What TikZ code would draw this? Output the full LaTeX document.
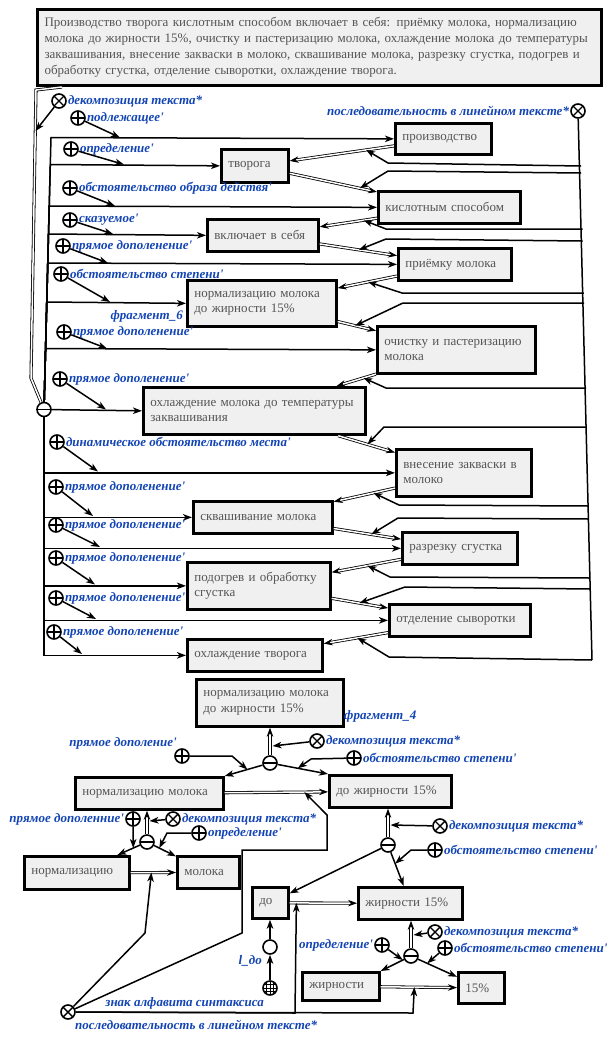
\documentclass[tikz,border=0pt]{standalone}
\usepackage{fontspec}
\setmainfont{Liberation Serif}
\usetikzlibrary{arrows.meta,calc}
\definecolor{lblue}{RGB}{18,68,180}
\definecolor{boxfill}{RGB}{240,240,240}
\definecolor{boxtext}{RGB}{85,85,85}
\newcommand{\apq}{\textquotesingle}
\tikzset{
  box/.style={draw, line width=2.7pt, fill=boxfill, text=boxtext, anchor=north west,
    inner xsep=7pt, inner ysep=2pt, align=left, font=\fontsize{13}{15.5}\selectfont,
    path picture={\fill (path picture bounding box.north west) -- ++(6pt,0pt) -- ++(-6pt,-6pt) -- cycle;}},
  sym/.style={circle, draw, line width=1.6pt, minimum size=14pt, inner sep=0pt, fill=white},
  symX/.style={sym, path picture={\draw[line width=1.4pt] (path picture bounding box.north west) -- (path picture bounding box.south east) (path picture bounding box.north east) -- (path picture bounding box.south west);}},
  symP/.style={sym, path picture={\draw[line width=1.4pt] (path picture bounding box.north) -- (path picture bounding box.south) (path picture bounding box.west) -- (path picture bounding box.east);}},
  symM/.style={sym, path picture={\draw[line width=1.4pt] (path picture bounding box.west) -- (path picture bounding box.east);}},
  symO/.style={sym},
  symG/.style={sym, path picture={\foreach \d in {-3.5,0,3.5} {\draw[line width=1pt] ([xshift=\d pt]path picture bounding box.north) -- ([xshift=\d pt]path picture bounding box.south) ([yshift=\d pt]path picture bounding box.west) -- ([yshift=\d pt]path picture bounding box.east);}}},
  lab/.style={text=lblue, font=\fontsize{13}{15}\selectfont\bfseries\itshape, inner sep=1pt},
  arr/.style={line width=1.5pt, -{Stealth[length=9pt,width=6.5pt,inset=2.5pt]}},
  ln/.style={line width=1.5pt},
  dbl/.style={line width=0.8pt, double=white, double distance=1.5pt, -{Stealth[length=9pt,width=6.5pt]}},
  dbln/.style={line width=0.8pt, double=white, double distance=1.5pt},
}
\begin{document}
\begin{tikzpicture}[x=1pt,y=-1pt]
\useasboundingbox (0,0) rectangle (615,1042);
% ---------- top text ----------
\node[box, line width=3pt, minimum width=564pt, minimum height=76pt, text width=550pt, font=\fontsize{13}{16}\selectfont] (top) at (36,8) {Производство творога кислотным способом включает в себя: приёмку молока, нормализацию\\молока до жирности 15\%, очистку и пастеризацию молока, охлаждение молока до температуры\\заквашивания, внесение закваски в молоко, сквашивание молока, разрезку сгустка, подогрев и\\обработку сгустка, отделение сыворотки, охлаждение творога.};

% ---------- upper boxes ----------
\node[box, minimum width=96pt, minimum height=31pt, text width=82pt] (n1) at (394,122) {производство};
\node[box, minimum width=67pt, minimum height=33pt, text width=53pt] (n2) at (220,148) {творога};
\node[box, minimum width=142pt, minimum height=32pt, text width=128pt] (n3) at (377,190) {кислотным способом};
\node[box, minimum width=111pt, minimum height=32pt, text width=97pt] (n4) at (206,218) {включает в себя};
\node[box, minimum width=113pt, minimum height=32pt, text width=99pt] (n5) at (397,247) {приёмку молока};
\node[box, minimum width=149pt, minimum height=46pt, text width=135pt] (n6) at (186,279) {нормализацию молока\\до жирности 15\%};
\node[box, minimum width=158pt, minimum height=47pt, text width=144pt] (n7) at (376,325) {очистку и пастеризацию\\молока};
\node[box, minimum width=222pt, minimum height=47pt, text width=208pt] (n8) at (142,386) {охлаждение молока до температуры\\заквашивания};
\node[box, minimum width=135pt, minimum height=47pt, text width=121pt] (n9) at (395,448) {внесение закваски в\\молоко};
\node[box, minimum width=139pt, minimum height=32pt, text width=125pt] (n10) at (192,500) {сквашивание молока};
\node[box, minimum width=115pt, minimum height=32pt, text width=101pt] (n11) at (401,531) {разрезку сгустка};
\node[box, minimum width=143pt, minimum height=47pt, text width=129pt] (n12) at (186,561) {подогрев и обработку\\сгустка};
\node[box, minimum width=141pt, minimum height=32pt, text width=127pt] (n13) at (388,603) {отделение сыворотки};
\node[box, minimum width=135pt, minimum height=32pt, text width=121pt] (n14) at (186,638) {охлаждение творога};
\node[lab, anchor=east] (frag6) at (184,316) {фрагмент\_6};

% ---------- decomposition tuple ----------
\node[symM] (T0) at (44,409.5) {};
\draw[dbln] ([xshift=26pt]top.south west) -- (36,90) -- (31,378) -- (T0);
\node[symX] (dec0) at (59,101) {};
\node[lab, anchor=west] (ldec0) at (dec0.east) {декомпозиция текста*};
\coordinate (d0t) at (35.5,131);
\draw[arr] (dec0) -- (d0t);

\draw[arr] (T0) -- (51,137.5) -- (n1.west);
\draw[arr] (T0) -- (50.3,164.5) -- (n2.west);
\draw[arr] (T0) -- (49.2,206) -- (n3.west);
\draw[arr] (T0) -- (48.5,234) -- (n4.west);
\draw[arr] (T0) -- (47.8,263) -- (n5.west);
\draw[arr] (T0) -- (46.8,302) -- (n6.west);
\draw[arr] (T0) -- (45.6,348.5) -- (n7.west);
\draw[arr] (T0) -- (n8.west);
\draw[arr] (T0) |- (n9.west);
\draw[arr] (T0) |- (n10.west);
\draw[arr] (T0) |- (n11.west);
\draw[arr] (T0) |- (n12.west);
\draw[arr] (T0) |- (n13.west);
\draw[arr] (T0) |- (n14.west);

% roles
\node[symP] (p1) at (78,118) {};   \node[lab, anchor=west] (lp1) at (p1.east) {подлежащее\apq};
\node[symP] (p2) at (71,149) {};   \node[lab, anchor=west] (lp2) at (p2.east) {определение\apq};
\node[symP] (p3) at (70,188) {};   \node[lab, anchor=west] (lp3) at (p3.east) {обстоятельство образа действя\apq};
\node[symP] (p4) at (70,220) {};   \node[lab, anchor=west] (lp4) at (p4.east) {сказуемое\apq};
\node[symP] (p5) at (63,246) {};   \node[lab, anchor=west] (lp5) at (p5.east) {прямое дополенение\apq};
\node[symP] (p6) at (61,274) {};   \node[lab, anchor=west] (lp6) at (p6.east) {обстоятельство степени\apq};
\node[symP] (p7) at (64,332) {};   \node[lab, anchor=west] (lp7) at (p7.east) {прямое дополенение\apq};
\node[symP] (p8) at (60,379) {};   \node[lab, anchor=west] (lp8) at (p8.east) {прямое дополенение\apq};
\node[symP] (p9) at (57,442) {};   \node[lab, anchor=west] (lp9) at (p9.east) {динамическое обстоятельство места\apq};
\node[symP] (p10) at (56,487) {};  \node[lab, anchor=west] (lp10) at (p10.east) {прямое дополенение\apq};
\node[symP] (p11) at (56,525) {};  \node[lab, anchor=west] (lp11) at (p11.east) {прямое дополенение\apq};
\node[symP] (p12) at (56,558) {};  \node[lab, anchor=west] (lp12) at (p12.east) {прямое дополенение\apq};
\node[symP] (p13) at (56,598) {};  \node[lab, anchor=west] (lp13) at (p13.east) {прямое дополенение\apq};
\node[symP] (p14) at (54,632) {};  \node[lab, anchor=west] (lp14) at (p14.east) {прямое дополенение\apq};
\coordinate (r1) at (120,137.5);
\coordinate (r2) at (124,164.5);
\coordinate (r3) at (115,206);
\coordinate (r4) at (113,234);
\coordinate (r5) at (108,263);
\coordinate (r6) at (110,302);
\coordinate (r7) at (107,348.5);
\coordinate (r8) at (106,409.5);
\coordinate (r9) at (98,471.5);
\coordinate (r10) at (93,516);
\coordinate (r11) at (100,547);
\coordinate (r12) at (95,584.5);
\coordinate (r13) at (96,619);
\coordinate (r14) at (82,654);
\foreach \i in {1,...,14} {\draw[arr] (p\i) -- (r\i);}

% ---------- sequence ----------
\draw[dbl] (n1) -- (n2);
\draw[dbl] (n2) -- (n3);
\draw[dbl] (n3) -- (n4);
\draw[dbl] (n4) -- (n5);
\draw[dbl] (n5) -- (n6);
\draw[dbl] (n6) -- (n7);
\draw[dbl] (n7) -- (n8);
\draw[dbl] (n8) -- (n9);
\draw[dbl] (n9) -- (n10);
\draw[dbl] (n10) -- (n11);
\draw[dbl] (n11) -- (n12);
\draw[dbl] (n12) -- (n13);
\draw[dbl] (n13) -- (n14);

\node[symX] (seq0) at (578,111) {};
\node[lab, anchor=east] (lseq0) at (seq0.west) {последовательность в линейном тексте*};
\coordinate (busend) at (592,660);
\draw[ln] (seq0) -- (busend);
\coordinate (tb1) at ($(n1)!0.41!(n2)$);
\coordinate (tb2) at ($(n2)!0.54!(n3)$);
\coordinate (tb3) at ($(n3)!0.46!(n4)$);
\coordinate (tb4) at ($(n4)!0.50!(n5)$);
\coordinate (tb5) at ($(n5)!0.45!(n6)$);
\coordinate (tb6) at ($(n6)!0.48!(n7)$);
\coordinate (tb7) at ($(n7)!0.46!(n8)$);
\coordinate (tb8) at ($(n8)!0.54!(n9)$);
\coordinate (tb9) at ($(n9)!0.45!(n10)$);
\coordinate (tb10) at ($(n10)!0.55!(n11)$);
\coordinate (tb11) at ($(n11)!0.46!(n12)$);
\coordinate (tb12) at ($(n12)!0.50!(n13)$);
\coordinate (tb13) at ($(n13)!0.50!(n14)$);
\draw[arr] (581.1,166) -- (388,163) -- (tb1);
\draw[arr] (581.2,173) -- (388,171) -- (tb2);
\draw[arr] (582.5,229) -- (386,229) -- (tb3);
\draw[arr] (582.7,241) -- (386,239) -- (tb4);
\draw[arr] (583.9,293) -- (402,293) -- (tb5);
\draw[arr] (584.1,303) -- (403,303) -- (tb6);
\draw[arr] (586,388) -- (386,388) -- (tb7);
\draw[arr] (586.8,427) -- (384,427) -- (tb8);
\draw[arr] (588.6,506) -- (399,505) -- (tb9);
\draw[arr] (588.9,519) -- (398,518) -- (tb10);
\draw[arr] (590.2,578) -- (390,577) -- (tb11);
\draw[arr] (590.5,589) -- (405,587) -- (tb12);
\draw[arr] (592,660) -- (389,657) -- (tb13);

% ---------- lower part ----------
\node[box, minimum width=147pt, minimum height=47pt, text width=133pt] (A) at (195,678) {нормализацию молока\\до жирности 15\%};
\node[lab, anchor=west] (frag4) at (343,716) {фрагмент\_4};
\node[box, minimum width=148pt, minimum height=32pt, text width=134pt] (B) at (74,776) {нормализацию молока};
\node[box, minimum width=122pt, minimum height=32pt, text width=108pt] (C) at (328,774) {до жирности 15\%};
\node[box, minimum width=36pt, minimum height=31pt, text width=22pt] (D) at (251,886) {до};
\node[box, minimum width=104pt, minimum height=32pt, text width=90pt] (E) at (357,886) {жирности 15\%};
\node[box, minimum width=77pt, minimum height=28pt, text width=63pt] (F) at (301,971) {жирности};
\node[box, minimum width=46pt, minimum height=31pt, text width=32pt] (G) at (457,971) {15\%};
\node[box, minimum width=105pt, minimum height=33pt, text width=91pt] (H) at (23,855) {нормализацию};
\node[box, minimum width=62pt, minimum height=32pt, text width=48pt] (I) at (176,855) {молока};

% tuple T1
\node[symM] (T1) at (270,763) {};
\draw[dbl] (T1) -- (T1 |- A.south);
\node[symX] (dec1) at (317,741) {};
\node[lab, anchor=west] (ldec1) at (dec1.east) {декомпозиция текста*};
\coordinate (dt1) at (272.5,746);
\draw[arr] (dec1) -- (dt1);
\draw[arr] (T1) -- (B.north east);
\draw[arr] (T1) -- (C.north west);
\node[symP] (q1) at (182,756) {};
\node[lab, anchor=east] (lq1) at (178,743) {прямое дополение\apq};
\coordinate (rq1) at ($(T1)!0.5!(B.north east)$);
\draw[arr] (q1) -- (232,756) -- (rq1);
\node[symP] (q2) at (354,758) {};
\node[lab, anchor=west] (lq2) at (q2.east) {обстоятельство степени\apq};
\coordinate (rq2) at ($(T1)!0.48!(C.north west)$);
\draw[arr] (q2) -- (311,759) -- (rq2);
\draw[dbl] (B) -- (C);

% tuple T2
\node[symM] (T2) at (388,845) {};
\draw[dbl] (T2) -- (T2 |- C.south);
\node[symX] (dec2) at (440,826) {};
\node[lab, anchor=west] (ldec2) at (dec2.east) {декомпозиция текста*};
\coordinate (dt2) at (390.5,825);
\draw[arr] (dec2) -- (dt2);
\node[symP] (q3) at (435,850) {};
\node[lab, anchor=west] (lq3) at (q3.east) {обстоятельство степени\apq};
\draw[arr] (T2) -- (D);
\draw[arr] (T2) -- (E);
\coordinate (rq3) at ($(T2)!0.32!(E)$);
\draw[arr] (q3) -- (411,850) -- (rq3);
\draw[dbl] (D) -- (E);

% tuple T3
\node[symM] (T3) at (411,956) {};
\draw[dbl] (T3) -- (T3 |- E.south);
\node[symX] (dec3) at (435,932) {};
\node[lab, anchor=west] (ldec3) at (dec3.east) {декомпозиция текста*};
\coordinate (dt3) at (413.5,935);
\draw[arr] (dec3) -- (dt3);
\draw[arr] (T3) -- (F.north east);
\draw[arr] (T3) -- (G);
\node[symP] (q4) at (445,948) {};
\node[lab, anchor=west] (lq4) at (q4.east) {обстоятельство степени\apq};
\coordinate (rq4) at ($(T3)!0.23!(G)$);
\draw[arr] (q4) -- (rq4);
\node[symP] (q5) at (382,945) {};
\node[lab, anchor=east] (lq5) at (q5.west) {определение\apq};
\coordinate (rq5) at ($(T3)!0.27!(F.north east)$);
\draw[arr] (q5) -- (rq5);
\draw[dbl] (F) -- (G);

% tuple T4
\node[symM] (T4) at (147,842) {};
\draw[dbl] (T4) -- (T4 |- B.south);
\node[symX] (dec4) at (173,819) {};
\node[lab, anchor=west] (ldec4) at (dec4.east) {декомпозиция текста*};
\coordinate (dt4) at (149.5,821);
\draw[arr] (dec4) -- (dt4);
\draw[arr] (T4) -- (H);
\draw[arr] (T4) -- (I);
\node[symP] (q6) at (133,819) {};
\node[lab, anchor=east] (lq6) at (q6.west) {прямое дополенние\apq};
\coordinate (rq6) at ($(T4)!0.196!(H)$);
\draw[arr] (q6) -- (rq6);
\node[symP] (q7) at (199,833) {};
\node[lab, anchor=west] (lq7) at (q7.east) {определение\apq};
\coordinate (rq7) at ($(T4)!0.2!(I)$);
\draw[arr] (q7) -- (167,833) -- (rq7);
\draw[dbl] (H) -- (I);

% l_до
\node[symG] (sg) at (270,988) {};
\node[lab, anchor=east] (lsg) at (265,1003) {знак алфавита синтаксиса};
\node[symO] (ldo) at (270,947) {};
\node[lab, anchor=east] (lldo) at (263,961) {l\_до};
\draw[arr] (sg) -- (ldo);
\draw[arr] (ldo) -- (ldo |- D.south);

% lower sequence
\node[symX] (seq1) at (68,1012) {};
\node[lab, anchor=west] (lseq1) at (74,1025) {последовательность в линейном тексте*};
\coordinate (thi) at ($(H)!0.567!(I)$);
\coordinate (tbc) at ($(B)!0.643!(C)$);
\coordinate (tde) at ($(D)!0.186!(E)$);
\coordinate (tfg) at ($(F)!0.523!(G)$);
\draw[arr] (seq1) -- (145,933) -- (thi);
\draw[arr] (seq1) -- (242,933) -- (242,850) -- (327,850) -- (327,815) -- (tbc);
\draw[arr] (seq1) -- (295,1013) -- (tde);
\draw[arr] (seq1) -- (413,1013) -- (tfg);
\end{tikzpicture}
\end{document}
